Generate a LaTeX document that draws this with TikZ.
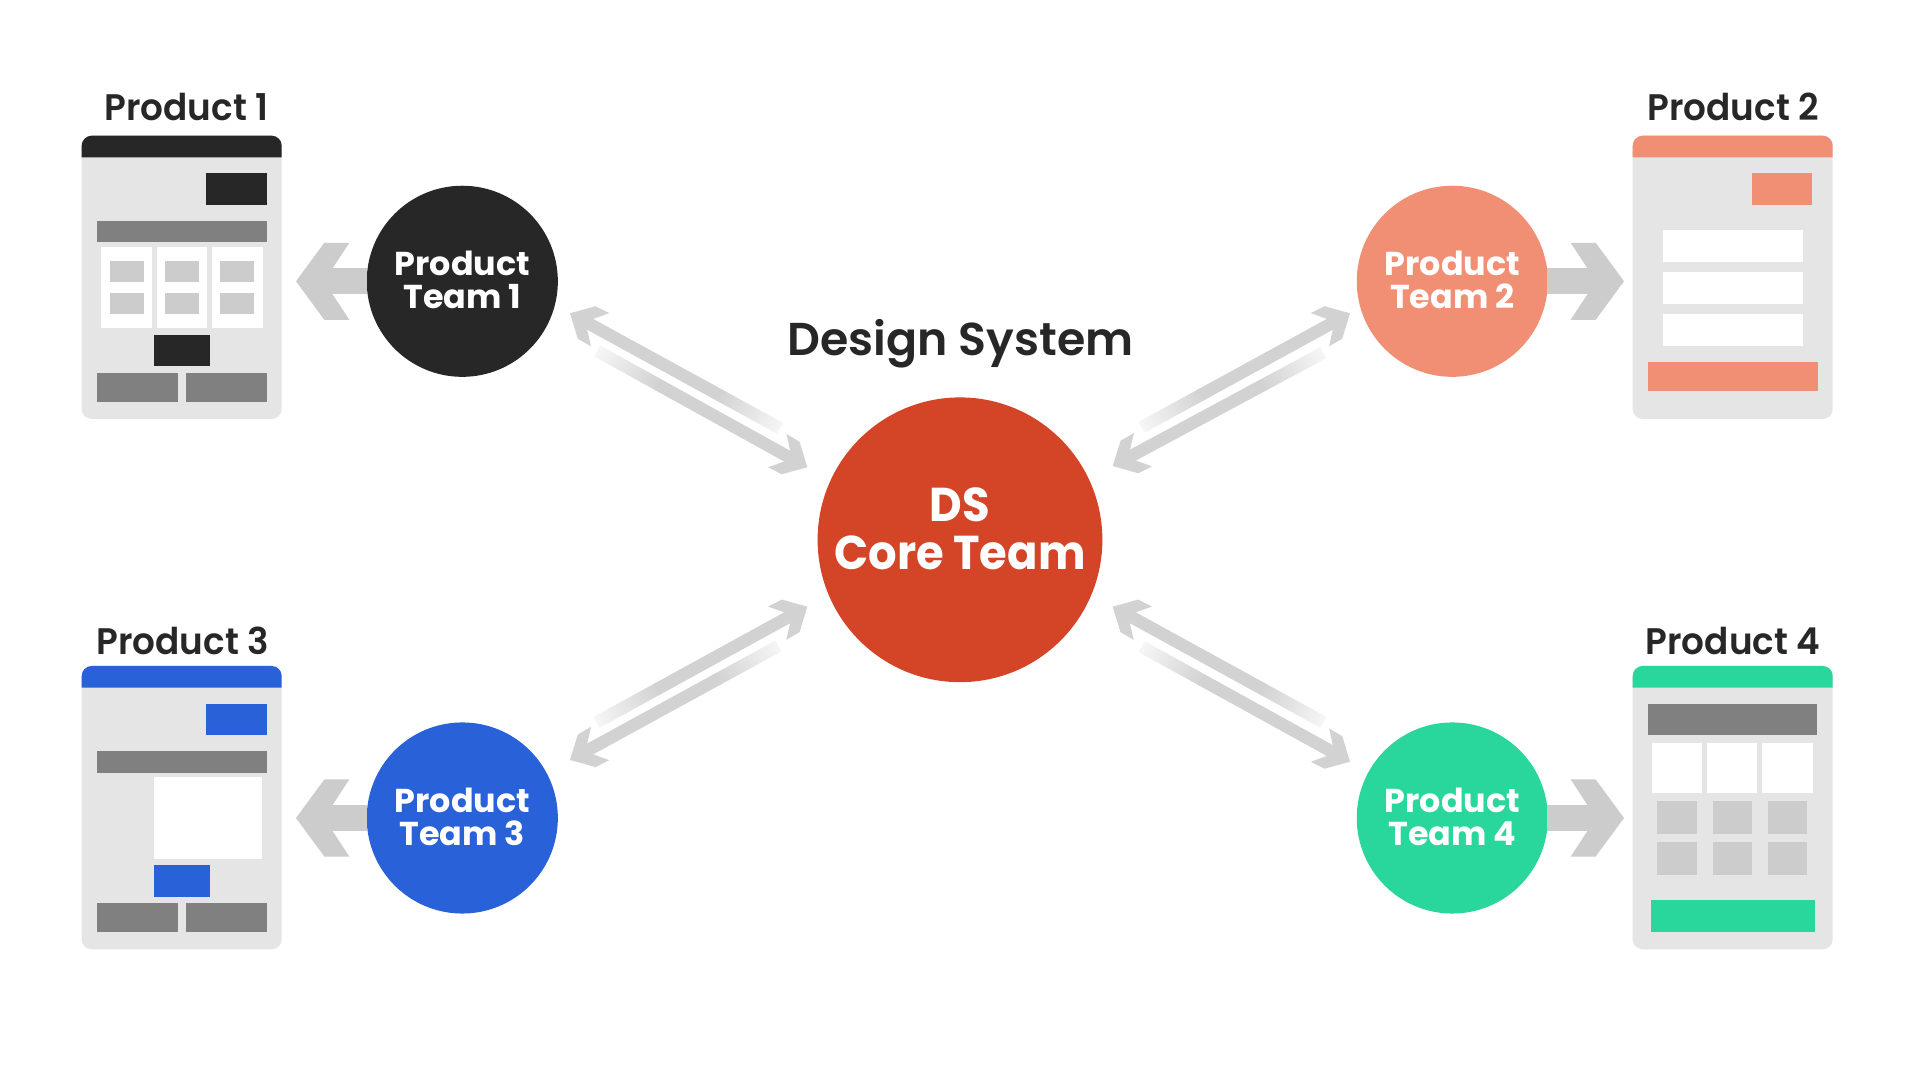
\documentclass[tikz,border=0pt]{standalone}
\usepackage{fontspec}
\usetikzlibrary{calc,arrows.meta}
\setmainfont{Poppins}
\newfontfamily\semifont[FakeStretch=0.97]{Poppins SemiBold}
\newfontfamily\titlefont[FakeStretch=0.995]{Poppins SemiBold}
\newfontfamily\coreboldfont[FakeStretch=0.945]{Poppins Bold}
\newfontfamily\teamboldfont[FakeStretch=1.01]{Poppins Bold}
\definecolor{inkc}{HTML}{272727}
\definecolor{corec}{HTML}{D44527}
\definecolor{salmonc}{HTML}{F18F75}
\definecolor{bluec}{HTML}{2961D8}
\definecolor{greenc}{HTML}{29D69C}
\definecolor{cardc}{HTML}{E5E5E5}
\definecolor{midc}{HTML}{808080}
\definecolor{lightc}{HTML}{CCCCCC}
\definecolor{diagc}{HTML}{D2D2D2}
\definecolor{fadec}{HTML}{F6F6F6}
\newdimen\pxu \pxu=0.28453pt
\pgfdeclarearrow{
  name=ChevBig,
  setup code={\pgfarrowssettipend{0pt}\pgfarrowssetbackend{-53.3\pxu}\pgfarrowssetlineend{-30\pxu}\pgfarrowssetvisualbackend{-30\pxu}},
  drawing code={
    \pgfpathmoveto{\pgfpointorigin}
    \pgfpathlineto{\pgfpoint{-28.3\pxu}{38.5\pxu}}
    \pgfpathlineto{\pgfpoint{-53.3\pxu}{38.5\pxu}}
    \pgfpathlineto{\pgfpoint{-36.7\pxu}{13.2\pxu}}
    \pgfpathlineto{\pgfpoint{-36.7\pxu}{-13.2\pxu}}
    \pgfpathlineto{\pgfpoint{-53.3\pxu}{-38.5\pxu}}
    \pgfpathlineto{\pgfpoint{-28.3\pxu}{-38.5\pxu}}
    \pgfpathclose
    \pgfusepathqfill}
}
\pgfdeclarearrow{
  name=ChevSmall,
  setup code={\pgfarrowssettipend{0pt}\pgfarrowssetbackend{-34.3\pxu}\pgfarrowssetlineend{-18\pxu}\pgfarrowssetvisualbackend{-18\pxu}},
  drawing code={
    \pgfpathmoveto{\pgfpointorigin}
    \pgfpathlineto{\pgfpoint{-19\pxu}{18.5\pxu}}
    \pgfpathlineto{\pgfpoint{-34.3\pxu}{19\pxu}}
    \pgfpathlineto{\pgfpoint{-23\pxu}{6.2\pxu}}
    \pgfpathlineto{\pgfpoint{-23\pxu}{-6.2\pxu}}
    \pgfpathlineto{\pgfpoint{-34.3\pxu}{-19\pxu}}
    \pgfpathlineto{\pgfpoint{-19\pxu}{-18.5\pxu}}
    \pgfpathclose
    \pgfusepathqfill}
}
\tikzset{
  teamcircle/.style={circle,minimum size=1.91cm,inner sep=0pt,text=white,align=center,text depth=0.03cm,
    font=\teamboldfont\fontsize{9.4}{9.48}\selectfont},
  corecircle/.style={circle,fill=corec,minimum size=2.846cm,inner sep=0pt,text=white,align=center,text depth=0.22cm,
    font=\coreboldfont\fontsize{13.5}{13.74}\selectfont},
  prodlabel/.style={anchor=base,text=inkc,font=\semifont\fontsize{10.5}{12}\selectfont,inner sep=0pt},
  titlelabel/.style={anchor=base,text=inkc,font=\titlefont\fontsize{13.1}{15}\selectfont,inner sep=0pt},
  bigarrow/.style={draw=lightc,line width=7.51pt,shorten <=-0.4pt,-{ChevBig}},
  diagarrow/.style={draw=diagc,line width=3.53pt,-{ChevSmall}},
  fadeshaft/.style={left color=fadec,right color=diagc,draw=none},
  cardbody/.style={fill=cardc,rounded corners=0.1cm},
}
\newcommand{\blockrect}[5]{\fill[#1] (#2,#3) rectangle (#4,#5);}
\newcommand{\cardbase}[3]{% x, y, colour
  \fill[cardbody] (#1,#2) rectangle ({#1+200},{#2+283.3});
  \fill[#3] (#1,{#2+21.6}) [rounded corners=0.1cm] -- (#1,#2) -- ({#1+200},#2) [sharp corners] -- ({#1+200},{#2+21.6}) -- cycle;
}
\newcommand{\fadearrow}[2]{% #1 faded end, #2 tip
  \pgfmathanglebetweenpoints{\pgfpointanchor{#1}{center}}{\pgfpointanchor{#2}{center}}%
  \let\fadeang\pgfmathresult
  \shade[fadeshaft,transform canvas={shift={(#1)},rotate=\fadeang}] (0cm,-0.062cm) rectangle (0.7cm,0.062cm);
  \coordinate (#1m) at ($(#1)!0.69cm!(#2)$);
  \draw[diagarrow] (#1m) -- (#2);
}
\begin{document}
\begin{tikzpicture}[x=0.01cm,y=-0.01cm]
\useasboundingbox (0,0) rectangle (1920,1080);
\fill[white] (0,0) rectangle (1920,1080);

% circles
\node[corecircle] (core) at (960,539.8) {DS\\Core Team};
\node[teamcircle,fill=inkc] (team1) at (462.3,281.3) {Product\\Team 1};
\node[teamcircle,fill=salmonc] (team2) at (1452.3,281.3) {Product\\Team 2};
\node[teamcircle,fill=bluec] (team3) at (462.3,818) {Product\\Team 3};
\node[teamcircle,fill=greenc] (team4) at (1452.3,818) {Product\\Team 4};

% labels
\node[titlelabel] (title) at (960.5,355.5) {Design System};
\node[prodlabel] (prod1) at (186.5,121) {Product 1};
\node[prodlabel] (prod2) at (1733.3,121) {Product 2};
\node[prodlabel] (prod3) at (182.7,654.8) {Product 3};
\node[prodlabel] (prod4) at (1733,654.8) {Product 4};

% card 1
\cardbase{81.7}{135.7}{inkc}
\blockrect{inkc}{206}{173.3}{266.7}{205}
\blockrect{midc}{96.7}{221}{266.7}{242.3}
\blockrect{white}{101}{247.3}{151.7}{328.3}
\blockrect{white}{157}{247.3}{207}{328.3}
\blockrect{white}{212}{247.3}{262.7}{328.3}
\foreach \xa/\xb in {110/144,165/199,220/254}{
  \blockrect{lightc}{\xa}{261}{\xb}{282}
  \blockrect{lightc}{\xa}{293.3}{\xb}{314.3}
}
\blockrect{inkc}{154}{334.7}{209.7}{366.3}
\blockrect{midc}{96.7}{372.7}{178}{402}
\blockrect{midc}{186}{372.7}{266.7}{402}

% card 2
\cardbase{1632.7}{135.7}{salmonc}
\blockrect{salmonc}{1751.7}{173.3}{1812.3}{205}
\blockrect{white}{1663}{230}{1802.7}{261.7}
\blockrect{white}{1663}{272}{1802.7}{303.7}
\blockrect{white}{1663}{314}{1802.7}{345.7}
\blockrect{salmonc}{1648}{362.3}{1817.7}{391}

% card 3
\cardbase{81.7}{666}{bluec}
\blockrect{bluec}{206}{703.7}{266.7}{735.3}
\blockrect{midc}{96.7}{751.3}{266.7}{772.7}
\blockrect{white}{154}{777.3}{262}{858.7}
\blockrect{bluec}{154}{865.3}{209.7}{896.7}
\blockrect{midc}{96.7}{903.3}{178}{932.3}
\blockrect{midc}{186}{903.3}{266.7}{932.3}

% card 4
\cardbase{1632.7}{666}{greenc}
\blockrect{midc}{1648}{703.7}{1817}{735.3}
\blockrect{white}{1652.3}{743.3}{1702.3}{792.7}
\blockrect{white}{1707.3}{743.3}{1757.3}{792.7}
\blockrect{white}{1762.3}{743.3}{1812.7}{792.7}
\foreach \xa/\xb in {1657.3/1697.3,1712.7/1752.3,1767.7/1807.3}{
  \blockrect{lightc}{\xa}{801}{\xb}{833.7}
  \blockrect{lightc}{\xa}{842.3}{\xb}{875}
}
\blockrect{greenc}{1651}{900.3}{1814.7}{931.7}

% team -> product arrows
\coordinate (tip1) at (296,281.3);
\coordinate (tip2) at (1624,281.3);
\coordinate (tip3) at (296,818);
\coordinate (tip4) at (1624,818);
\draw[bigarrow] (team1) -- (tip1);
\draw[bigarrow] (team2) -- (tip2);
\draw[bigarrow] (team3) -- (tip3);
\draw[bigarrow] (team4) -- (tip4);

% team <-> core double arrows: faded end, then tip
\coordinate (tla) at (780,428.3);   \coordinate (tlat) at (570,313.3);
\coordinate (tlb) at (597.3,351);   \coordinate (tlbt) at (807.3,467.3);
\coordinate (tra) at (1141.7,427.3);\coordinate (trat) at (1350,313.3);
\coordinate (trb) at (1323.3,352.7);\coordinate (trbt) at (1112.7,466);
\coordinate (bla) at (596.7,722.3); \coordinate (blat) at (807.3,606.7);
\coordinate (blb) at (778.3,646);   \coordinate (blbt) at (570,760);
\coordinate (bra) at (1323.3,722.3);\coordinate (brat) at (1112.7,606.7);
\coordinate (brb) at (1141.7,646.7);\coordinate (brbt) at (1350,761.7);
\fadearrow{tla}{tlat}
\fadearrow{tlb}{tlbt}
\fadearrow{tra}{trat}
\fadearrow{trb}{trbt}
\fadearrow{bla}{blat}
\fadearrow{blb}{blbt}
\fadearrow{bra}{brat}
\fadearrow{brb}{brbt}
\end{tikzpicture}
\end{document}
